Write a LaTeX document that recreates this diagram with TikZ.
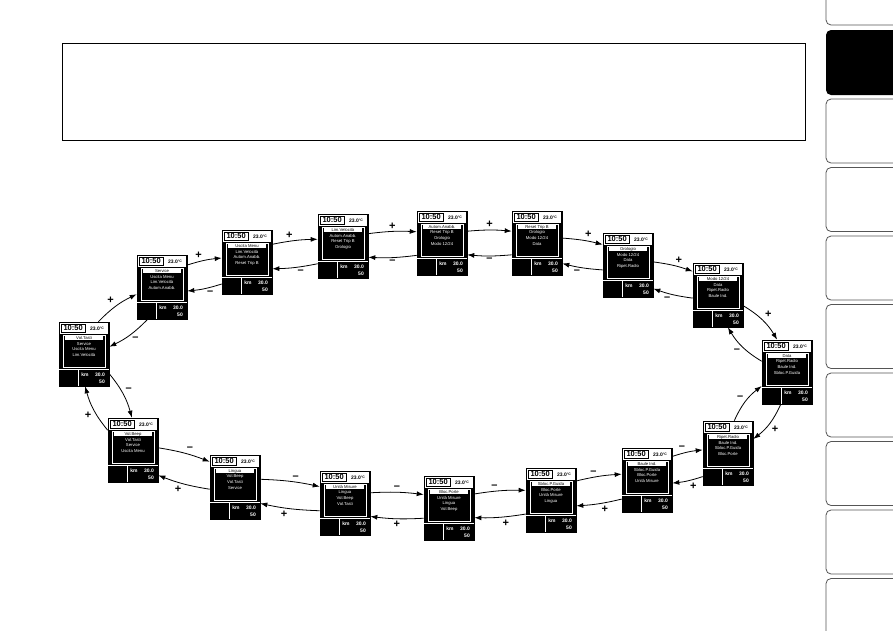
\documentclass[tikz,border=0pt]{standalone}
\usepackage{fontspec}
\setmainfont{Liberation Sans}
\usetikzlibrary{arrows.meta}
\definecolor{tabgray}{HTML}{555555}

\tikzset{
  screenbox/.style={fill=black, draw=black, line width=0.6pt, minimum width=50pt, minimum height=64pt, inner sep=0pt},
  clock/.style={font=\fontsize{7.5}{8}\selectfont\bfseries, inner sep=0pt},
  temp/.style={font=\fontsize{5}{5}\selectfont\bfseries, inner sep=0pt},
  item/.style={white, font=\fontsize{4.2}{4.5}\selectfont, inner sep=0pt},
  kmtxt/.style={white, font=\fontsize{5}{5}\selectfont\bfseries, inner sep=0pt},
  navarrow/.style={-{Latex[length=7pt,width=5pt]}, line width=0.8pt},
  sign/.style={font=\fontsize{11}{11}\selectfont\bfseries, inner sep=2pt},
  tabbox/.style={draw=tabgray, line width=0.8pt, rounded corners=5pt}
}

% one display: name, top-left x, top-left y, four menu lines
\newcommand{\menuscreen}[7]{%
  \node[screenbox] (#1) at (#2+25,#3+32) {};
  \begin{scope}[shift={(#2,#3)}]
    \fill[white] (1.2,1.2) rectangle (48.8,11.6);
    \draw[line width=0.9pt] (2.2,2) rectangle (26,10.8);
    \node[clock] (#1c) at (14.1,6.4) {10:50};
    \node[temp] (#1t) at (38,6.4) {23.0\raisebox{1.2pt}{\fontsize{3.5}{4}\selectfont °C}};
    \draw[white, line width=0.5pt] (4,13) rectangle (46,45);
    \fill[white] (6,13.6) rectangle (44,18.4);
    \node[item, black] (#1a) at (25,16) {#4};
    \node[item] (#1b) at (25,21.8) {#5};
    \node[item] (#1d) at (25,27.4) {#6};
    \node[item] (#1e) at (25,33) {#7};
    \draw[white, line width=0.5pt] (0,47) -- (50,47) (19,47) -- (19,64);
    \node[kmtxt] (#1k) at (26,53) {km};
    \node[kmtxt] (#1o) at (41,53) {30.0};
    \node[kmtxt] (#1v) at (43,59.5) {50};
  \end{scope}}

\begin{document}
\begin{tikzpicture}[x=1pt, y=-1pt]
  \useasboundingbox (0,0) rectangle (893,630);
  \clip (0,0) rectangle (893,630);
  \fill[white] (0,0) rectangle (893,630);

  % text frame on top
  \draw[line width=0.8pt] (62,43) rectangle (805,140);

  % side tabs
  \draw[tabbox] (826,-40) rectangle (905,25);
  \foreach \y in {99,167.5,236,304.5,373,441.5,510,578.5}
    \draw[tabbox] (826,\y) rectangle (905,\y+64);
  \fill[black, rounded corners=5pt] (826,30) rectangle (905,95);

  % displays, clockwise from the left
  \menuscreen{s1}{59}{322}{Vol.Tasti}{Service}{Uscita Menu}{Lim.Velocità}
  \menuscreen{s2}{137}{255}{Service}{Uscita Menu}{Lim.Velocità}{Autom.Anabb.}
  \menuscreen{s3}{222}{230}{Uscita Menu}{Lim.Velocità}{Autom.Anabb.}{Reset Trip B}
  \menuscreen{s4}{318}{214}{Lim.Velocità}{Autom.Anabb.}{Reset Trip B}{Orologio}
  \menuscreen{s5}{417}{211}{Autom.Anabb.}{Reset Trip B}{Orologio}{Modo 12/24}
  \menuscreen{s6}{512}{211}{Reset Trip B}{Orologio}{Modo 12/24}{Data}
  \menuscreen{s7}{603}{233}{Orologio}{Modo 12/24}{Data}{Ripet.Radio}
  \menuscreen{s8}{693}{263}{Modo 12/24}{Data}{Ripet.Radio}{Baule Ind.}
  \menuscreen{s9}{762}{340}{Data}{Ripet.Radio}{Baule Ind.}{Sbloc.P.Guida}
  \menuscreen{s10}{703}{421}{Ripet.Radio}{Baule Ind.}{Sbloc.P.Guida}{Bloc.Porte}
  \menuscreen{s11}{622}{448}{Baule Ind.}{Sbloc.P.Guida}{Bloc.Porte}{Unità Misure}
  \menuscreen{s12}{526}{468}{Sbloc.P.Guida}{Bloc.Porte}{Unità Misure}{Lingua}
  \menuscreen{s13}{424}{476}{Bloc.Porte}{Unità Misure}{Lingua}{Vol.Beep}
  \menuscreen{s14}{320}{471}{Unità Misure}{Lingua}{Vol.Beep}{Vol.Tasti}
  \menuscreen{s15}{210}{455}{Lingua}{Vol.Beep}{Vol.Tasti}{Service}
  \menuscreen{s16}{108}{418}{Vol.Beep}{Vol.Tasti}{Service}{Uscita Menu}

  % + forward on the outside, - back on the inside
  \foreach \a/\b/\t/\bb in {s1/s2/41/10, s2/s3/16/6, s3/s4/10/5, s4/s5/1/5,
      s5/s6/0/5, s6/s7/-14/5, s7/s8/-18/6, s8/s9/-48/14, s9/s10/-126/14,
      s10/s11/-162/6, s11/s12/-168/5, s12/s13/-176/5, s13/s14/177/5,
      s14/s15/172/5, s15/s16/160/6, s16/s1/117/12}{
    \pgfmathtruncatemacro\pa{\t+25}
    \pgfmathtruncatemacro\pb{\t+155}
    \pgfmathtruncatemacro\ma{\t+205}
    \pgfmathtruncatemacro\mb{\t-25}
    \draw[navarrow] (\a.\pa) to[bend left=\bb] node[auto, sign] {+} (\b.\pb);
    \draw[navarrow] (\b.\ma) to[bend left=\bb] node[auto, sign] {–} (\a.\mb);
  }
\end{tikzpicture}
\end{document}
